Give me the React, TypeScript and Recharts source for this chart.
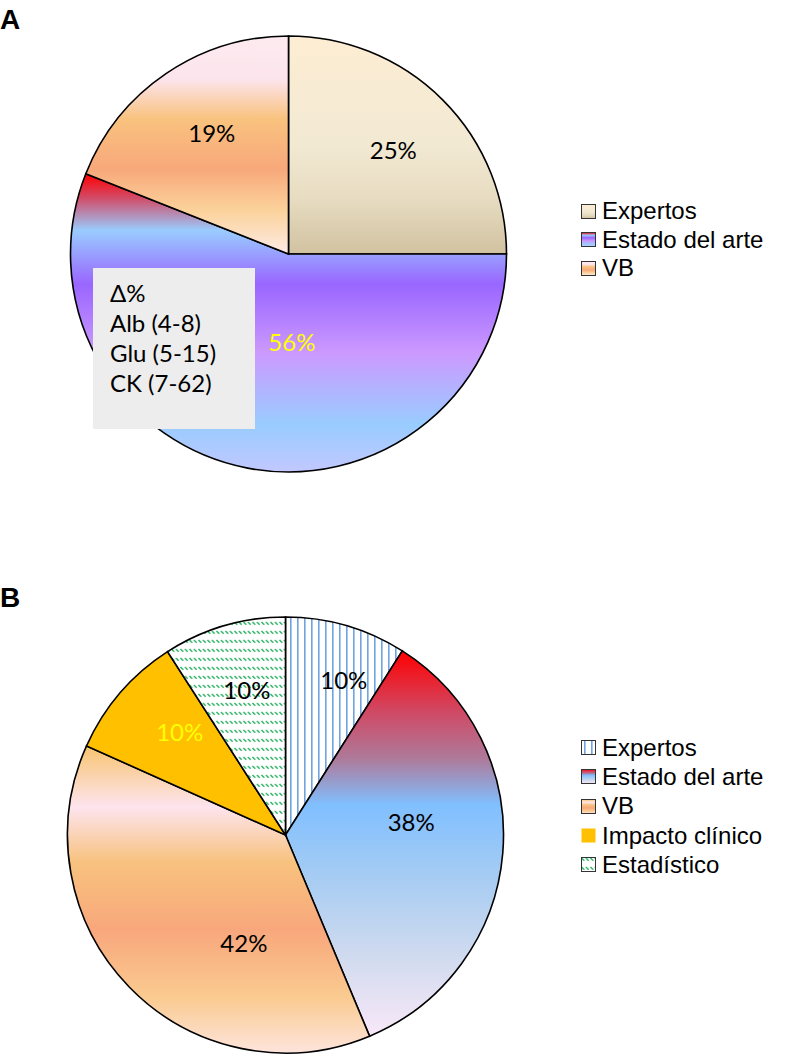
import React from 'react';
import { PieChart, Pie, Cell, Legend } from 'recharts';

// chart A
const catsA = ['Expertos', 'Estado del arte', 'VB'];
const valsA = [25, 56, 19];
const labelsA = ['25%', '56%', '19%'];

// chart B (slice sizes, printed labels kept as shown)
const catsB = ['Expertos', 'Estado del arte', 'VB', 'Impacto clínico', 'Estadístico'];
const valsB = [9.0, 34.7, 38.0, 9.2, 9.1];
const labelsB = ['10%', '38%', '42%', '10%', '10%'];

const boxLines = ['Δ%', 'Alb (4-8)', 'Glu (5-15)', 'CK (7-62)'];

const fillsA = ['url(#gaExp)', 'url(#gaEst)', 'url(#gaVb)'];
const fillsB = ['url(#pbExp)', 'url(#gbEst)', 'url(#gbVb)', '#FFC000', 'url(#pbStat)'];
const labelColorsA = ['#000', '#FFFF00', '#000'];
const labelColorsB = ['#000', '#000', '#000', '#FFFF00', '#000'];

// label placement: fraction of radius, angle nudge (deg, clockwise)
const labelPosA = [[0.68, 0], [0.4, -13], [0.66, 2]];
const labelPosB = [[0.76, 4.4], [0.58, -11], [0.53, -24.6], [0.68, 3.8], [0.69, 1.5]];

const labelFont = 'Lato, "Open Sans", sans-serif';
const legendFont = '"Liberation Sans", Arial, sans-serif';

const makeLabel = (texts: string[], colors: string[], pos: number[][]) => (props: any) => {
  const { cx, cy, midAngle, outerRadius, index } = props;
  const [f, d] = pos[index];
  const cw = ((90 - midAngle + d) * Math.PI) / 180;
  const r = outerRadius * f;
  const x = cx + r * Math.sin(cw);
  const y = cy - r * Math.cos(cw);
  return (
    <text x={x} y={y} fill={colors[index]} textAnchor="middle" dominantBaseline="central"
      style={{ fontFamily: labelFont, fontSize: 24 }}>
      {texts[index]}
    </text>
  );
};

const Defs = () => (
  <svg width={0} height={0} style={{ position: 'absolute' }}>
    <defs>
      <linearGradient id="gaExp" x1="0" y1="0" x2="0" y2="1">
        <stop offset="0" stopColor="#FDEDD3" />
        <stop offset="0.5" stopColor="#F2E9D3" />
        <stop offset="0.75" stopColor="#E7DCC1" />
        <stop offset="1" stopColor="#D1C2A0" />
      </linearGradient>
      <linearGradient id="gaEst" x1="0" y1="0" x2="0" y2="1">
        <stop offset="0" stopColor="#FF0000" />
        <stop offset="0.08" stopColor="#D24A66" />
        <stop offset="0.19" stopColor="#99CCFF" />
        <stop offset="0.37" stopColor="#9966FF" />
        <stop offset="0.6" stopColor="#CC99FF" />
        <stop offset="0.84" stopColor="#99CCFF" />
        <stop offset="1" stopColor="#C2C8FF" />
      </linearGradient>
      <linearGradient id="gaVb" x1="0" y1="0" x2="0" y2="1">
        <stop offset="0" stopColor="#FDEBF0" />
        <stop offset="0.2" stopColor="#FCE4EC" />
        <stop offset="0.38" stopColor="#F9C27E" />
        <stop offset="0.61" stopColor="#F8A87B" />
        <stop offset="0.8" stopColor="#FBD29B" />
        <stop offset="1" stopColor="#FDEBE5" />
      </linearGradient>
      <linearGradient id="gbEst" x1="0" y1="0" x2="0" y2="1">
        <stop offset="0" stopColor="#FF0000" />
        <stop offset="0.16" stopColor="#CF4A66" />
        <stop offset="0.28" stopColor="#AE7A9A" />
        <stop offset="0.4" stopColor="#80BFFF" />
        <stop offset="0.6" stopColor="#A9CDF2" />
        <stop offset="0.8" stopColor="#D2DBEF" />
        <stop offset="1" stopColor="#F8E8F8" />
      </linearGradient>
      <linearGradient id="gbVb" x1="0" y1="0" x2="0" y2="1">
        <stop offset="0" stopColor="#F8C470" />
        <stop offset="0.2" stopColor="#FDE4EE" />
        <stop offset="0.38" stopColor="#F8C27E" />
        <stop offset="0.6" stopColor="#F8A77C" />
        <stop offset="0.82" stopColor="#FACB91" />
        <stop offset="1" stopColor="#FDE4DC" />
      </linearGradient>
      <pattern id="pbExp" patternUnits="userSpaceOnUse" width="7" height="10">
        <rect width="7" height="10" fill="#fff" />
        <rect x="3" width="1.6" height="10" fill="#6FA4DC" />
      </pattern>
      <pattern id="pbStat" patternUnits="userSpaceOnUse" width="4.5" height="9">
        <rect width="4.5" height="9" fill="#fff" />
        <line x1="0.4" y1="1" x2="3.2" y2="3.8" stroke="#1FAE5E" strokeWidth="1.4" />
      </pattern>
    </defs>
  </svg>
);

const LegendBox = ({ cats, fills, gap, noBorder }: { cats: string[]; fills: string[]; gap: number; noBorder?: number[] }) => (
  <div style={{ fontFamily: legendFont, fontSize: 24, color: '#000' }}>
    {cats.map((c, i) => (
      <div key={c} style={{ height: gap, display: 'flex', alignItems: 'center' }}>
        <svg width={15} height={15} style={{ marginRight: 6 }}>
          <rect x={0.5} y={0.5} width={14} height={14} fill={fills[i]}
            stroke={noBorder && noBorder.includes(i) ? 'none' : '#333'} strokeWidth={1} />
        </svg>
        <span>{c}</span>
      </div>
    ))}
  </div>
);

const PanelTitle = ({ t, top }: { t: string; top: number }) => (
  <div style={{ position: 'absolute', left: 0, top, fontFamily: legendFont, fontWeight: 700, fontSize: 28, lineHeight: 'normal' }}>
    {t}
  </div>
);

export default function App() {
  const dataA = catsA.map((name, i) => ({ name, value: valsA[i] }));
  const dataB = catsB.map((name, i) => ({ name, value: valsB[i] }));
  return (
    <div style={{ position: 'absolute', left: 0, top: 0, width: 790, height: 1055, background: '#fff' }}>
      <Defs />
      <PanelTitle t="A" top={4} />
      <div style={{ position: 'absolute', left: 0, top: 0 }}>
        <PieChart width={790} height={540} margin={{ top: 0, right: 0, bottom: 0, left: 0 }}>
          <Pie data={dataA} dataKey="value" nameKey="name" cx={288.5} cy={254} outerRadius={218}
            startAngle={90} endAngle={-270} stroke="#000" strokeWidth={1.6}
            isAnimationActive={false} labelLine={false}
            label={makeLabel(labelsA, labelColorsA, labelPosA)}>
            {dataA.map((d, i) => <Cell key={d.name} fill={fillsA[i]} />)}
          </Pie>
          <Legend layout="vertical" align="right" verticalAlign="top"
            wrapperStyle={{ left: 581, top: 197, width: 209 }}
            content={() => <LegendBox cats={catsA} fills={fillsA} gap={28.5} />} />
        </PieChart>
      </div>
      <div style={{ position: 'absolute', left: 93, top: 268, width: 162, height: 161, background: '#EDEDED',
        boxSizing: 'border-box', padding: '10px 0 0 17px', fontFamily: labelFont, fontSize: 24, lineHeight: '30px', color: '#000' }}>
        {boxLines.map((l) => <div key={l}>{l}</div>)}
      </div>
      <PanelTitle t="B" top={582} />
      <div style={{ position: 'absolute', left: 0, top: 540 }}>
        <PieChart width={790} height={515} margin={{ top: 0, right: 0, bottom: 0, left: 0 }}>
          <Pie data={dataB} dataKey="value" nameKey="name" cx={285.5} cy={295} outerRadius={218}
            startAngle={90} endAngle={-270} stroke="#000" strokeWidth={1.6}
            isAnimationActive={false} labelLine={false}
            label={makeLabel(labelsB, labelColorsB, labelPosB)}>
            {dataB.map((d, i) => <Cell key={d.name} fill={fillsB[i]} />)}
          </Pie>
          <Legend layout="vertical" align="right" verticalAlign="top"
            wrapperStyle={{ left: 581, top: 193, width: 209 }}
            content={() => <LegendBox cats={catsB} fills={fillsB} gap={29.3} noBorder={[3]} />} />
        </PieChart>
      </div>
    </div>
  );
}
